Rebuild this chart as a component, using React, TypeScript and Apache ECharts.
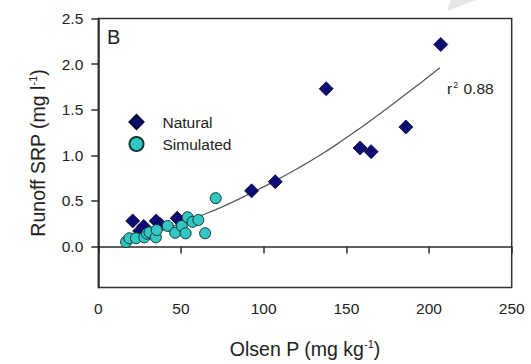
import React, { useEffect, useRef } from "react";
import * as echarts from "echarts";

// Natural samples: [Olsen P (mg/kg), Runoff SRP (mg/l)]
const naturalData: number[][] = [
  [20.8, 0.28], [25, 0.17], [27.5, 0.22], [35, 0.28], [37.5, 0.24],
  [47.7, 0.31], [92.7, 0.61], [107, 0.71], [137.8, 1.73], [158.3, 1.08],
  [165, 1.04], [186, 1.31], [207.1, 2.215],
];

// Simulated samples
const simulatedData: number[][] = [
  [16.8, 0.05], [18.8, 0.09], [22.8, 0.09], [27.8, 0.10], [29.5, 0.14],
  [31, 0.155], [34.8, 0.10], [35.3, 0.18], [42, 0.225], [46.5, 0.15],
  [50.5, 0.225], [52.8, 0.145], [54, 0.32], [57, 0.27], [60.5, 0.29],
  [64.6, 0.145], [71, 0.53],
];

// Fitted curve, points
const fitCurve: number[][] = [
  [17, 0.04], [30, 0.12], [45, 0.22], [61.6, 0.335], [75.6, 0.44],
  [92.8, 0.59], [106.9, 0.72], [120, 0.85], [134, 1.0], [148.2, 1.17],
  [164.3, 1.375], [178.4, 1.565], [192.5, 1.76], [206.6, 1.96],
];

const yTicks: number[] = [0, 0.5, 1.0, 1.5, 2.0, 2.5];
const seriesNames: string[] = ["Natural", "Simulated"];
const panelLabel = "B";
const r2Value = "0.88";

const FONT = "Liberation Sans, Arial, sans-serif";

export default function App() {
  const ref = useRef<HTMLDivElement>(null);

  useEffect(() => {
    if (!ref.current) return;
    const chart = echarts.init(ref.current, undefined, { renderer: "svg" });
    const axisColor = "#2a2a2a";
    chart.setOption({
      animation: false,
      backgroundColor: "#ffffff",
      textStyle: { fontFamily: FONT },
      grid: {
        left: 98.3,
        right: 19.3,
        top: 18.5,
        bottom: 71,
        show: true,
        borderColor: "#333333",
        borderWidth: 1.5,
        backgroundColor: "transparent",
      },
      legend: {
        orient: "vertical",
        left: 123.5,
        top: 109,
        itemWidth: 14,
        itemHeight: 14,
        itemGap: 6,
        data: seriesNames,
        textStyle: {
          fontFamily: FONT,
          fontSize: 15.5,
          color: "#222",
          padding: [0, 0, 0, 14],
        },
      },
      xAxis: {
        type: "value",
        min: 0,
        max: 250,
        interval: 50,
        name: "Olsen P (mg kg{sup|-1})",
        nameLocation: "middle",
        nameGap: 51,
        nameTextStyle: {
          fontFamily: FONT,
          fontSize: 19.5,
          color: "#222",
          rich: { sup: { fontSize: 11, verticalAlign: "top", padding: [0, 0, 10, 0], fontFamily: FONT, color: "#222" } },
        },
        axisLine: { show: true, lineStyle: { color: axisColor, width: 1.5 } },
        axisTick: { show: true, length: 7, inside: false, lineStyle: { color: axisColor, width: 1.5 } },
        axisLabel: { fontFamily: FONT, fontSize: 15.5, color: "#222", margin: 13 },
        splitLine: { show: false },
      },
      yAxis: {
        type: "value",
        min: -0.45,
        max: 2.5,
        name: "Runoff SRP (mg l{sup|-1})",
        nameLocation: "middle",
        nameGap: 50,
        nameRotate: 90,
        nameTextStyle: {
          fontFamily: FONT,
          fontSize: 19.5,
          color: "#222",
          rich: { sup: { fontSize: 11, verticalAlign: "top", padding: [0, 0, 10, 0], fontFamily: FONT, color: "#222" } },
        },
        axisLine: { show: true, lineStyle: { color: axisColor, width: 1.5 } },
        axisTick: { show: true, length: 7, inside: false, customValues: yTicks, lineStyle: { color: axisColor, width: 1.5 } },
        axisLabel: {
          fontFamily: FONT,
          fontSize: 15.5,
          color: "#222",
          margin: 15,
          customValues: yTicks,
          formatter: (v: number) => v.toFixed(1),
        },
        splitLine: { show: false },
      },
      series: [
        {
          name: "fit",
          type: "line",
          data: fitCurve,
          smooth: true,
          showSymbol: false,
          symbol: "none",
          lineStyle: { color: "#5a5a5a", width: 1.3 },
          z: 1,
          silent: true,
        },
        {
          name: seriesNames[0],
          type: "scatter",
          data: naturalData,
          symbol: "diamond",
          symbolSize: 14,
          itemStyle: { color: "#0c0c72", borderColor: "#00002e", borderWidth: 0.8, opacity: 1 },
          z: 3,
        },
        {
          name: seriesNames[1],
          type: "scatter",
          data: simulatedData,
          symbol: "circle",
          symbolSize: 11,
          itemStyle: { color: "#33c6c2", borderColor: "#0f3535", borderWidth: 1, opacity: 1 },
          z: 4,
        },
      ],
      graphic: [
        {
          type: "polygon",
          shape: { points: [[451, 0], [476, 0], [447, 11]] },
          style: { fill: "#e6e6e6" },
          silent: true,
        },
        {
          type: "text",
          left: 107,
          top: 27,
          style: { text: panelLabel, font: `20px ${FONT}`, fill: "#222" },
        },
        {
          type: "text",
          left: 447,
          top: 80,
          style: {
            text: `r{sup|2} ${r2Value}`,
            font: `15.5px ${FONT}`,
            fill: "#222",
            rich: { sup: { fontSize: 9, verticalAlign: "top", padding: [0, 1, 7, 1], fill: "#222" } },
          },
        },
      ],
    });
    return () => chart.dispose();
  }, []);

  return <div ref={ref} style={{ width: 531, height: 364, position: "absolute", left: 0, top: 0 }} />;
}
